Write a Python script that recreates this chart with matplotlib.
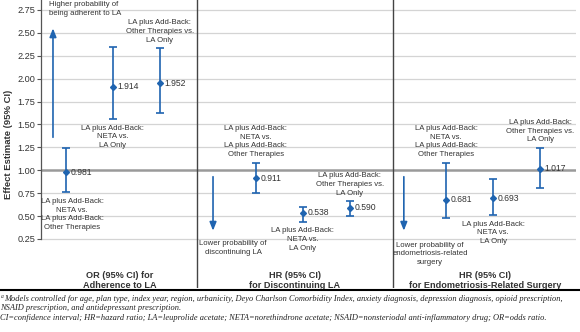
import matplotlib
matplotlib.use("Agg")
import matplotlib.pyplot as plt

plt.rcParams['font.family'] = ['Liberation Sans', 'DejaVu Sans']

# data
estimates = [[0.981, 1.914, 1.952], [0.911, 0.538, 0.590], [0.681, 0.693, 1.017]]
ci_low = [[0.76, 1.56, 1.63], [0.75, 0.44, 0.50], [0.48, 0.51, 0.81]]
ci_high = [[1.24, 2.35, 2.33], [1.08, 0.60, 0.66], [1.08, 0.90, 1.24]]
comparisons = ["LA plus Add-Back:\nNETA vs.\nLA plus Add-Back:\nOther Therapies",
               "LA plus Add-Back:\nNETA vs.\nLA Only",
               "LA plus Add-Back:\nOther Therapies vs.\nLA Only"]
group_titles = ["OR (95% CI) for\nAdherence to LA",
                "HR (95% CI)\nfor Discontinuing LA",
                "HR (95% CI)\nfor Endometriosis-Related Surgery"]
yticks = [0.25, 0.50, 0.75, 1.00, 1.25, 1.50, 1.75, 2.00, 2.25, 2.50, 2.75]
footnotes = ["Models controlled for age, plan type, index year, region, urbanicity, Deyo Charlson Comorbidity Index, anxiety diagnosis, depression diagnosis, opioid prescription,",
             "NSAID prescription, and antidepressant prescription.",
             "CI=confidence interval; HR=hazard ratio; LA=leuprolide acetate; NETA=norethindrone acetate; NSAID=nonsteriodal anti-inflammatory drug; OR=odds ratio."]

# layout
xpos = [[0.53, 1.53, 2.53], [4.57, 5.57, 6.57], [8.62, 9.62, 10.62]]
label_side = [['below', 'below', 'above'], ['above', 'below', 'above'], ['above', 'below', 'above']]
label_dx = [[4.5, 0, 0], [0, 0, 0], [0, 0, 0]]
separators = [3.32, 7.49]
group_centers = [1.67, 5.40, 9.45]
blue = '#1f64b0'
txt = '#333333'
small = 5.6
lsp = 1.35

fig = plt.figure(figsize=(5.8, 3.32), dpi=100)
ax = fig.add_axes([41 / 580, 1 - 288 / 332, 535 / 580, 288 / 332])
ax.set_xlim(0, 535 / 47)
ax.set_ylim(-0.285, 2.859)

for s in ['top', 'right', 'bottom']:
    ax.spines[s].set_visible(False)
ax.spines['left'].set_bounds(0.25, 2.859)
ax.spines['left'].set_color('#555555')
ax.spines['left'].set_linewidth(0.9)
ax.set_xticks([])
ax.set_yticks(yticks, [f'{v:.2f}' for v in yticks])
ax.tick_params(axis='y', length=3, width=0.8, color='#555555', labelsize=6.6, labelcolor=txt, pad=1)
ax.set_ylabel('Effect Estimate (95% CI)', fontsize=6.8, fontweight='bold', color=txt, labelpad=3)

for v in yticks:
    if v == 1.0:
        ax.axhline(v, color='#9a9a9a', lw=1.8, zorder=1)
    else:
        ax.axhline(v, color='#d4d4d4', lw=0.9, zorder=1)
for xs in separators:
    ax.axvline(xs, color='#444444', lw=1.0, zorder=2)

for g in range(3):
    for k in range(3):
        x = xpos[g][k]
        e = estimates[g][k]
        lo, hi = ci_low[g][k], ci_high[g][k]
        ax.errorbar(x, e, yerr=[[e - lo], [hi - e]], fmt='D', color=blue, ms=3,
                    elinewidth=1.2, capsize=2.9, capthick=1.2, zorder=3)
        ax.text(x + 0.1, e, f'{e:.3f}', fontsize=6.2, color=txt, va='center', ha='left')
        dx = label_dx[g][k]
        if label_side[g][k] == 'below':
            ax.annotate(comparisons[k], (x, lo), xytext=(dx, -4), textcoords='offset points',
                        ha='center', va='top', fontsize=small, color=txt, linespacing=lsp)
        else:
            ax.annotate(comparisons[k], (x, hi), xytext=(dx, 3.5), textcoords='offset points',
                        ha='center', va='bottom', fontsize=small, color=txt, linespacing=lsp)
    ax.text(group_centers[g], -0.20, group_titles[g], ha='center', va='center',
            fontsize=6.6, fontweight='bold', color=txt, linespacing=1.2)

arrow = dict(arrowstyle='-|>,head_length=0.5,head_width=0.2', color=blue, lw=1.2)
ax.annotate('', xy=(0.255, 2.58), xytext=(0.255, 1.33), arrowprops=arrow)
ax.annotate('', xy=(3.66, 0.31), xytext=(3.66, 0.96), arrowprops=arrow)
ax.annotate('', xy=(7.72, 0.31), xytext=(7.72, 0.96), arrowprops=arrow)
ax.text(0.17, 2.85, 'Higher probability of\nbeing adherent to LA', ha='left', va='top',
        fontsize=small, color=txt, linespacing=lsp)
ax.text(4.09, 0.24, 'Lower probability of\ndiscontinuing LA', ha='center', va='top',
        fontsize=small, color=txt, linespacing=lsp)
ax.text(8.28, 0.22, 'Lower probability of\nendometriosis-related\nsurgery', ha='center', va='top',
        fontsize=small, color=txt, linespacing=lsp)

# footer
fig.add_artist(plt.Line2D([0, 1], [1 - 290 / 332, 1 - 290 / 332], color='black', lw=1.5,
                          transform=fig.transFigure))
serif = ['Liberation Serif', 'DejaVu Serif']
fs = 6.05
fig.text(0.5 / 580, 1 - 296.5 / 332, 'a', fontsize=4, style='italic', family=serif, va='center', color='#222222')
fig.text(4 / 580, 1 - 299 / 332, footnotes[0], fontsize=fs, style='italic', family=serif, va='center', color='#222222')
fig.text(0.5 / 580, 1 - 307.5 / 332, footnotes[1], fontsize=fs, style='italic', family=serif, va='center', color='#222222')
fig.text(0.5 / 580, 1 - 318.5 / 332, footnotes[2], fontsize=fs, style='italic', family=serif, va='center', color='#222222')

fig.savefig('out.png', dpi=100)
